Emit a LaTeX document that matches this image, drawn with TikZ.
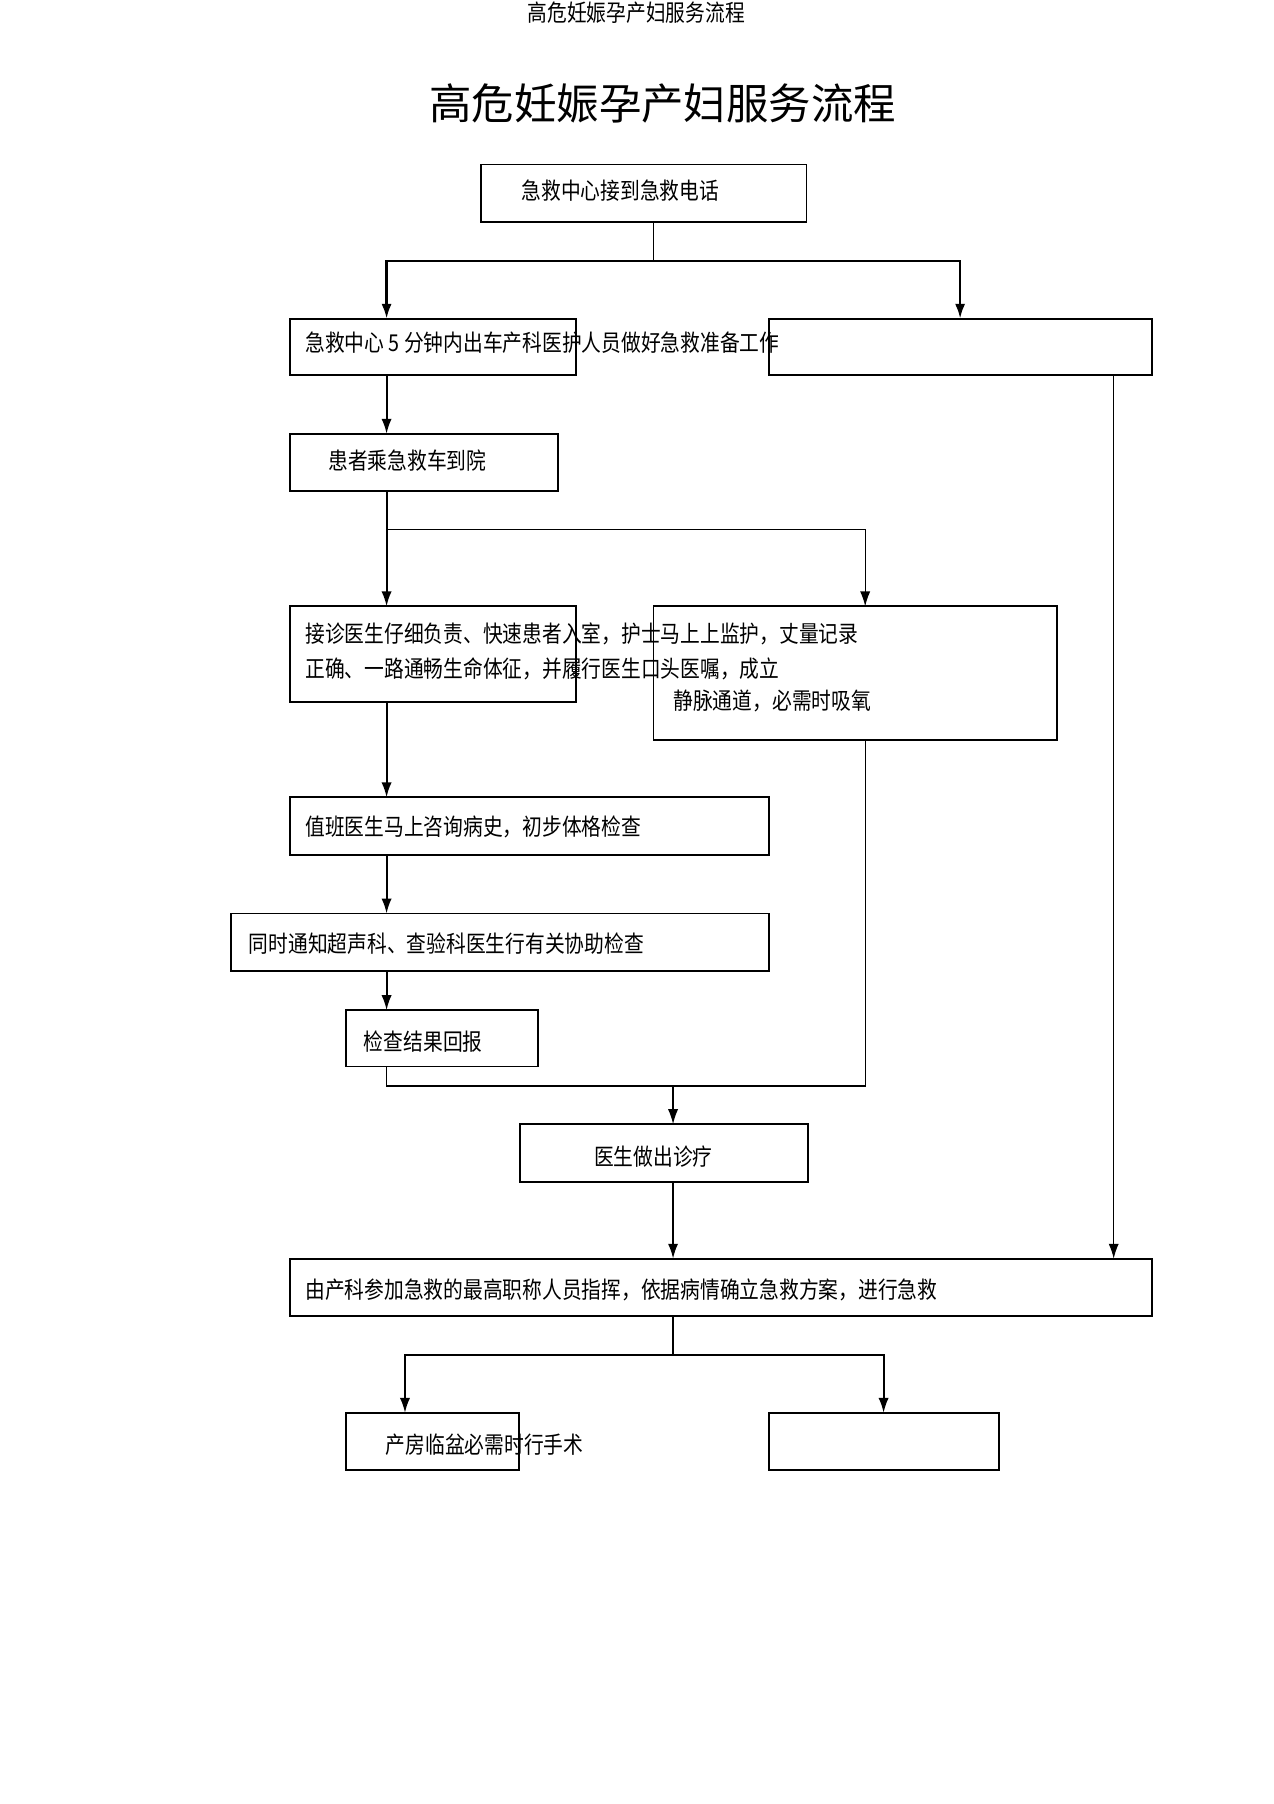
\documentclass[tikz,border=0pt]{standalone}
\usepackage{fontspec}
\usepackage{tikz}
\usetikzlibrary{arrows.meta}
\newfontfamily\cjk[FakeStretch=0.85]{Noto Sans CJK SC}
\newfontfamily\cjktitle{Noto Sans CJK SC}
\newcommand{\pxu}{0.01897cm}
\newcommand{\bodyfont}{\cjk\fontsize{10.9}{13}\selectfont}

\tikzset{
  box/.style 2 args={draw, line width=0.9pt, anchor=north west, inner sep=0pt, outer sep=0pt,
    minimum width=#1*\pxu, minimum height=#2*\pxu},
  lbl/.style={anchor=west, inner sep=0pt, font=\bodyfont},
  arr/.style={-{Latex[length=7pt,width=4.8pt]}, line width=0.9pt},
  conn/.style={line width=0.6pt},
}

\begin{document}
\begin{tikzpicture}[x=\pxu, y=-\pxu]
  \useasboundingbox (0,0) rectangle (1107,1568);
  % headings
  \node[font=\bodyfont, inner sep=0pt] (head) at (553,11) {高危妊娠孕产妇服务流程};
  \node[font=\cjktitle\fontsize{19.9}{24}\selectfont, inner sep=0pt] (title) at (576,90) {高危妊娠孕产妇服务流程};

  % boxes
  \node[box={283}{50}]  (b1)   at (418,143)  {};
  \node[box={249}{49}]  (b2l)  at (252,277)  {};
  \node[box={333}{49}]  (b2r)  at (668,277)  {};
  \node[box={233}{50}]  (b3)   at (252,377)  {};
  \node[box={249}{83}]  (b4l)  at (252,527)  {};
  \node[box={351}{116}] (b4r)  at (568,527)  {};
  \node[box={416}{50}]  (b5)   at (252,693)  {};
  \node[box={467}{50}]  (b6)   at (201,794)  {};
  \node[box={167}{49}]  (b7)   at (301,878)  {};
  \node[box={250}{50}]  (b8)   at (452,977)  {};
  \node[box={749}{50}]  (b9)   at (252,1094) {};
  \node[box={150}{50}]  (b10l) at (301,1228) {};
  \node[box={200}{50}]  (b10r) at (668,1228) {};

  % texts
  \node[lbl] (t1)  at (453,166)  {急救中心接到急救电话};
  \node[lbl] (t2)  at (265,298)  {急救中心 5 分钟内出车产科医护人员做好急救准备工作};
  \node[lbl] (t3)  at (285,400)  {患者乘急救车到院};
  \node[lbl] (t4a) at (265,551)  {接诊医生仔细负责、快速患者入室，护士马上上监护，丈量记录};
  \node[lbl] (t4b) at (265,581)  {正确、一路通畅生命体征，并履行医生口头医嘱，成立};
  \node[lbl] (t4c) at (585,609)  {静脉通道，必需时吸氧};
  \node[lbl] (t5)  at (265,719)  {值班医生马上咨询病史，初步体格检查};
  \node[lbl] (t6)  at (216,820)  {同时通知超声科、查验科医生行有关协助检查};
  \node[lbl] (t7)  at (316,905)  {检查结果回报};
  \node[lbl] (t8)  at (516,1005) {医生做出诊疗};
  \node[lbl] (t9)  at (265,1121) {由产科参加急救的最高职称人员指挥，依据病情确立急救方案，进行急救};
  \node[lbl] (t10) at (335,1256) {产房临盆必需时行手术};

  % columns and forks
  \coordinate (colL)  at (336,0);
  \coordinate (colR)  at (752,0);
  \coordinate (colE)  at (968,0);
  \coordinate (colB)  at (352,0);
  \coordinate (fork1) at (568,227);
  \coordinate (fork2) at (336,460);
  \coordinate (join)  at (585,944);
  \coordinate (fork3) at (585,1178);

  % connectors
  \draw[conn] (b1.south -| fork1) -- (fork1);
  \draw[arr, line width=1.2pt] (fork1) -| (b2l.north -| colL);
  \draw[arr, line width=1.2pt] (fork1) -| (b2r.north);
  \draw[arr] (b2l.south -| colL) -- (b3.north -| colL);
  \draw[arr] (b3.south -| colL) -- (b4l.north -| colL);
  \draw[arr, line width=0.6pt] (fork2) -| (b4r.north -| colR);
  \draw[arr] (b4l.south -| colL) -- (b5.north -| colL);
  \draw[arr] (b5.south -| colL) -- (b6.north -| colL);
  \draw[arr] (b6.south -| colL) -- (b7.north -| colL);
  \draw[conn] (b7.south -| colL) |- (join) -| (b4r.south -| colR);
  \draw[arr, line width=0.6pt] (join) -- (b8.north -| join);
  \draw[arr] (b8.south -| join) -- (b9.north -| join);
  \draw[arr, line width=0.6pt] (b2r.south -| colE) -- (b9.north -| colE);
  \draw[conn] (b9.south -| fork3) -- (fork3);
  \draw[arr] (fork3) -| (b10l.north -| colB);
  \draw[arr] (fork3) -| (b10r.north);
\end{tikzpicture}
\end{document}
